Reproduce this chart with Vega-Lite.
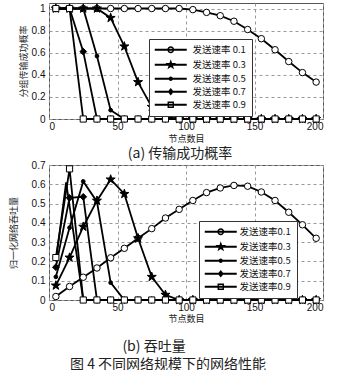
{
"$schema": "https://vega.github.io/schema/vega-lite/v6.json",
"padding": {"left": 8, "top": 1, "right": 4, "bottom": 1},
"bounds": "flush",
"spacing": 46,
"title": {"text": "图 4  不同网络规模下的网络性能", "orient": "bottom", "anchor": "middle", "font": "Noto Sans CJK SC", "fontSize": 14, "fontWeight": "normal", "color": "#222", "offset": 3},
"config": {
  "view": {"stroke": "#555"},
  "axis": {"grid": true, "gridDash": [3, 3], "gridColor": "#999", "domain": false, "ticks": false, "labelFont": "Liberation Sans", "labelFontSize": 10, "labelColor": "#111", "titleFont": "Noto Sans CJK SC", "titleFontSize": 9, "titleFontWeight": "normal", "titleColor": "#222"},
  "legend": {"orient": "none", "title": null, "fillColor": "white", "strokeColor": "#333", "padding": 6, "symbolSize": 64, "symbolOffset": 11, "labelOffset": 17, "labelFont": "Noto Sans CJK SC", "labelFontSize": 9.5, "labelColor": "#111", "rowPadding": 1, "symbolOpacity": 1, "symbolStrokeWidth": 1}
},
"datasets": {
  "a": [
    {"x":5,"y":1,"s":"0.1"},{"x":15,"y":1,"s":"0.1"},{"x":25,"y":1,"s":"0.1"},{"x":35,"y":1,"s":"0.1"},{"x":45,"y":1,"s":"0.1"},{"x":55,"y":1,"s":"0.1"},{"x":65,"y":1,"s":"0.1"},{"x":75,"y":1,"s":"0.1"},{"x":85,"y":1,"s":"0.1"},{"x":95,"y":1,"s":"0.1"},{"x":105,"y":0.99,"s":"0.1"},{"x":115,"y":0.965,"s":"0.1"},{"x":125,"y":0.935,"s":"0.1"},{"x":135,"y":0.885,"s":"0.1"},{"x":145,"y":0.81,"s":"0.1"},{"x":155,"y":0.727,"s":"0.1"},{"x":165,"y":0.627,"s":"0.1"},{"x":175,"y":0.52,"s":"0.1"},{"x":185,"y":0.42,"s":"0.1"},{"x":195,"y":0.334,"s":"0.1"},
    {"x":5,"y":1,"s":"0.3"},{"x":15,"y":1,"s":"0.3"},{"x":25,"y":1,"s":"0.3"},{"x":35,"y":1,"s":"0.3"},{"x":45,"y":0.915,"s":"0.3"},{"x":55,"y":0.657,"s":"0.3"},{"x":65,"y":0.334,"s":"0.3"},{"x":75,"y":0.11,"s":"0.3"},{"x":85,"y":0.02,"s":"0.3"},{"x":95,"y":0,"s":"0.3"},{"x":105,"y":0,"s":"0.3"},{"x":115,"y":0,"s":"0.3"},{"x":125,"y":0,"s":"0.3"},{"x":135,"y":0,"s":"0.3"},{"x":145,"y":0,"s":"0.3"},{"x":155,"y":0,"s":"0.3"},{"x":165,"y":0,"s":"0.3"},{"x":175,"y":0,"s":"0.3"},{"x":185,"y":0,"s":"0.3"},{"x":195,"y":0,"s":"0.3"},
    {"x":5,"y":1,"s":"0.5"},{"x":15,"y":1,"s":"0.5"},{"x":25,"y":1,"s":"0.5"},{"x":35,"y":0.57,"s":"0.5"},{"x":45,"y":0.08,"s":"0.5"},{"x":55,"y":0,"s":"0.5"},{"x":65,"y":0,"s":"0.5"},{"x":75,"y":0,"s":"0.5"},{"x":85,"y":0,"s":"0.5"},{"x":95,"y":0,"s":"0.5"},{"x":105,"y":0,"s":"0.5"},{"x":115,"y":0,"s":"0.5"},{"x":125,"y":0,"s":"0.5"},{"x":135,"y":0,"s":"0.5"},{"x":145,"y":0,"s":"0.5"},{"x":155,"y":0,"s":"0.5"},{"x":165,"y":0,"s":"0.5"},{"x":175,"y":0,"s":"0.5"},{"x":185,"y":0,"s":"0.5"},{"x":195,"y":0,"s":"0.5"},
    {"x":5,"y":1,"s":"0.7"},{"x":15,"y":1,"s":"0.7"},{"x":25,"y":0.61,"s":"0.7"},{"x":35,"y":0,"s":"0.7"},{"x":45,"y":0,"s":"0.7"},{"x":55,"y":0,"s":"0.7"},{"x":65,"y":0,"s":"0.7"},{"x":75,"y":0,"s":"0.7"},{"x":85,"y":0,"s":"0.7"},{"x":95,"y":0,"s":"0.7"},{"x":105,"y":0,"s":"0.7"},{"x":115,"y":0,"s":"0.7"},{"x":125,"y":0,"s":"0.7"},{"x":135,"y":0,"s":"0.7"},{"x":145,"y":0,"s":"0.7"},{"x":155,"y":0,"s":"0.7"},{"x":165,"y":0,"s":"0.7"},{"x":175,"y":0,"s":"0.7"},{"x":185,"y":0,"s":"0.7"},{"x":195,"y":0,"s":"0.7"},
    {"x":5,"y":1,"s":"0.9"},{"x":15,"y":1,"s":"0.9"},{"x":25,"y":0,"s":"0.9"},{"x":35,"y":0,"s":"0.9"},{"x":45,"y":0,"s":"0.9"},{"x":55,"y":0,"s":"0.9"},{"x":65,"y":0,"s":"0.9"},{"x":75,"y":0,"s":"0.9"},{"x":85,"y":0,"s":"0.9"},{"x":95,"y":0,"s":"0.9"},{"x":105,"y":0,"s":"0.9"},{"x":115,"y":0,"s":"0.9"},{"x":125,"y":0,"s":"0.9"},{"x":135,"y":0,"s":"0.9"},{"x":145,"y":0,"s":"0.9"},{"x":155,"y":0,"s":"0.9"},{"x":165,"y":0,"s":"0.9"},{"x":175,"y":0,"s":"0.9"},{"x":185,"y":0,"s":"0.9"},{"x":195,"y":0,"s":"0.9"}
  ],
  "b": [
    {"x":5,"y":0.018,"s":"0.1"},{"x":15,"y":0.07,"s":"0.1"},{"x":25,"y":0.118,"s":"0.1"},{"x":35,"y":0.166,"s":"0.1"},{"x":45,"y":0.219,"s":"0.1"},{"x":55,"y":0.268,"s":"0.1"},{"x":65,"y":0.32,"s":"0.1"},{"x":75,"y":0.37,"s":"0.1"},{"x":85,"y":0.425,"s":"0.1"},{"x":95,"y":0.47,"s":"0.1"},{"x":105,"y":0.516,"s":"0.1"},{"x":115,"y":0.557,"s":"0.1"},{"x":125,"y":0.581,"s":"0.1"},{"x":135,"y":0.594,"s":"0.1"},{"x":145,"y":0.59,"s":"0.1"},{"x":155,"y":0.56,"s":"0.1"},{"x":165,"y":0.516,"s":"0.1"},{"x":175,"y":0.455,"s":"0.1"},{"x":185,"y":0.39,"s":"0.1"},{"x":195,"y":0.32,"s":"0.1"},
    {"x":5,"y":0.075,"s":"0.3"},{"x":15,"y":0.22,"s":"0.3"},{"x":25,"y":0.38,"s":"0.3"},{"x":35,"y":0.515,"s":"0.3"},{"x":45,"y":0.625,"s":"0.3"},{"x":55,"y":0.55,"s":"0.3"},{"x":65,"y":0.32,"s":"0.3"},{"x":75,"y":0.12,"s":"0.3"},{"x":85,"y":0.027,"s":"0.3"},{"x":95,"y":0,"s":"0.3"},{"x":105,"y":0,"s":"0.3"},{"x":115,"y":0,"s":"0.3"},{"x":125,"y":0,"s":"0.3"},{"x":135,"y":0,"s":"0.3"},{"x":145,"y":0,"s":"0.3"},{"x":155,"y":0,"s":"0.3"},{"x":165,"y":0,"s":"0.3"},{"x":175,"y":0,"s":"0.3"},{"x":185,"y":0,"s":"0.3"},{"x":195,"y":0,"s":"0.3"},
    {"x":5,"y":0.12,"s":"0.5"},{"x":15,"y":0.375,"s":"0.5"},{"x":25,"y":0.615,"s":"0.5"},{"x":35,"y":0.51,"s":"0.5"},{"x":45,"y":0.09,"s":"0.5"},{"x":55,"y":0,"s":"0.5"},{"x":65,"y":0,"s":"0.5"},{"x":75,"y":0,"s":"0.5"},{"x":85,"y":0,"s":"0.5"},{"x":95,"y":0,"s":"0.5"},{"x":105,"y":0,"s":"0.5"},{"x":115,"y":0,"s":"0.5"},{"x":125,"y":0,"s":"0.5"},{"x":135,"y":0,"s":"0.5"},{"x":145,"y":0,"s":"0.5"},{"x":155,"y":0,"s":"0.5"},{"x":165,"y":0,"s":"0.5"},{"x":175,"y":0,"s":"0.5"},{"x":185,"y":0,"s":"0.5"},{"x":195,"y":0,"s":"0.5"},
    {"x":5,"y":0.17,"s":"0.7"},{"x":15,"y":0.53,"s":"0.7"},{"x":25,"y":0.535,"s":"0.7"},{"x":35,"y":0,"s":"0.7"},{"x":45,"y":0,"s":"0.7"},{"x":55,"y":0,"s":"0.7"},{"x":65,"y":0,"s":"0.7"},{"x":75,"y":0,"s":"0.7"},{"x":85,"y":0,"s":"0.7"},{"x":95,"y":0,"s":"0.7"},{"x":105,"y":0,"s":"0.7"},{"x":115,"y":0,"s":"0.7"},{"x":125,"y":0,"s":"0.7"},{"x":135,"y":0,"s":"0.7"},{"x":145,"y":0,"s":"0.7"},{"x":155,"y":0,"s":"0.7"},{"x":165,"y":0,"s":"0.7"},{"x":175,"y":0,"s":"0.7"},{"x":185,"y":0,"s":"0.7"},{"x":195,"y":0,"s":"0.7"},
    {"x":5,"y":0.22,"s":"0.9"},{"x":15,"y":0.68,"s":"0.9"},{"x":25,"y":0,"s":"0.9"},{"x":35,"y":0,"s":"0.9"},{"x":45,"y":0,"s":"0.9"},{"x":55,"y":0,"s":"0.9"},{"x":65,"y":0,"s":"0.9"},{"x":75,"y":0,"s":"0.9"},{"x":85,"y":0,"s":"0.9"},{"x":95,"y":0,"s":"0.9"},{"x":105,"y":0,"s":"0.9"},{"x":115,"y":0,"s":"0.9"},{"x":125,"y":0,"s":"0.9"},{"x":135,"y":0,"s":"0.9"},{"x":145,"y":0,"s":"0.9"},{"x":155,"y":0,"s":"0.9"},{"x":165,"y":0,"s":"0.9"},{"x":175,"y":0,"s":"0.9"},{"x":185,"y":0,"s":"0.9"},{"x":195,"y":0,"s":"0.9"}
  ]
},
"vconcat": [
  {
    "width": 274, "height": 116,
    "title": {"text": "(a) 传输成功概率", "orient": "bottom", "font": "Noto Sans CJK SC", "fontSize": 14, "fontWeight": "normal", "color": "#222", "offset": 4, "dx": -6},
    "data": {"name": "a"},
    "encoding": {
      "x": {"field": "x", "type": "quantitative", "scale": {"domain": [0, 200]}, "axis": {"values": [0, 50, 100, 150, 200], "title": "节点数目", "titlePadding": 3, "labelPadding": 2}},
      "y": {"field": "y", "type": "quantitative", "scale": {"domain": [0, 1.05]}, "axis": {"values": [0, 0.2, 0.4, 0.6, 0.8, 1], "format": "~g", "title": "分组传输成功概率", "titleX": -26, "titleBaseline": "middle", "labelPadding": 4}}
    },
    "layer": [
      {"mark": {"type": "line", "color": "black", "strokeWidth": 1.8}, "encoding": {"detail": {"field": "s"}}},
      {"mark": {"type": "point", "filled": true, "stroke": "black", "strokeWidth": 1, "opacity": 1},
       "encoding": {
         "shape": {"field": "s", "type": "nominal", "legend": null, "scale": {"domain": ["0.1","0.3","0.5","0.7","0.9"], "range": ["circle", "M0,-1L0.231,-0.318L0.9511,-0.309L0.3738,0.1214L0.5878,0.809L0,0.393L-0.5878,0.809L-0.3738,0.1214L-0.9511,-0.309L-0.231,-0.318Z", "circle", "diamond", "square"]}},
         "fill": {"field": "s", "type": "nominal", "legend": null, "scale": {"domain": ["0.1","0.3","0.5","0.7","0.9"], "range": ["white", "black", "black", "black", "white"]}},
         "size": {"field": "s", "type": "nominal", "legend": null, "scale": {"type": "ordinal", "domain": ["0.1","0.3","0.5","0.7","0.9"], "range": [42, 90, 14, 45, 38]}}
       }},
      {"mark": {"type": "point", "opacity": 0, "filled": false, "color": "black", "fill": "black", "stroke": "black", "strokeWidth": 1},
       "encoding": {
         "shape": {"field": "s", "type": "nominal",
           "scale": {"domain": ["0.1","0.3","0.5","0.7","0.9"], "range": [
             "M-4,-0.25L4,-0.25L4,0.25L-4,0.25ZM0.85,0A0.85,0.85 0 1,1 -0.85,0A0.85,0.85 0 1,1 0.85,0ZM0.5,0A0.5,0.5 0 1,0 -0.5,0A0.5,0.5 0 1,0 0.5,0Z",
             "M-4,-0.25L4,-0.25L4,0.25L-4,0.25ZM0,-1.4L0.3233,-0.445L1.3315,-0.4326L0.5231,0.17L0.8229,1.1326L0,0.55L-0.8229,1.1326L-0.5231,0.17L-1.3315,-0.4326L-0.3233,-0.445Z",
             "M-4,-0.25L4,-0.25L4,0.25L-4,0.25ZM0.55,0A0.55,0.55 0 1,1 -0.55,0A0.55,0.55 0 1,1 0.55,0Z",
             "M-4,-0.25L4,-0.25L4,0.25L-4,0.25ZM0,-0.95L0.75,0L0,0.95L-0.75,0Z",
             "M-4,-0.25L4,-0.25L4,0.25L-4,0.25ZM-0.8,-0.8L0.8,-0.8L0.8,0.8L-0.8,0.8ZM-0.45,-0.45L-0.45,0.45L0.45,0.45L0.45,-0.45Z"]},
           "legend": {"legendX": 100, "legendY": 36, "labelExpr": "'发送速率 ' + datum.label",
             "symbolFillColor": "black", "symbolStrokeColor": "black"}}
       }}
    ],
    "resolve": {"scale": {"shape": "independent"}, "legend": {"shape": "independent"}}
  },
  {
    "width": 274, "height": 135,
    "title": {"text": "(b) 吞吐量", "orient": "bottom", "font": "Noto Sans CJK SC", "fontSize": 14, "fontWeight": "normal", "color": "#222", "offset": 17, "dx": -32},
    "data": {"name": "b"},
    "encoding": {
      "x": {"field": "x", "type": "quantitative", "scale": {"domain": [0, 200]}, "axis": {"values": [0, 50, 100, 150, 200], "title": "节点数目", "titlePadding": 2, "labelPadding": 2}},
      "y": {"field": "y", "type": "quantitative", "scale": {"domain": [0, 0.7]}, "axis": {"values": [0, 0.1, 0.2, 0.3, 0.4, 0.5, 0.6, 0.7], "format": "~g", "title": "归一化网络吞吐量", "titleX": -36, "titleBaseline": "middle", "labelPadding": 4}}
    },
    "layer": [
      {"mark": {"type": "line", "color": "black", "strokeWidth": 1.8}, "encoding": {"detail": {"field": "s"}}},
      {"data": {"values": [{"x": 5, "y": 0.2}, {"x": 12.5, "y": 0.61}, {"x": 25, "y": 0}]},
       "mark": {"type": "line", "color": "black", "strokeWidth": 1.8}, "encoding": {}},
      {"mark": {"type": "point", "filled": true, "stroke": "black", "strokeWidth": 1, "opacity": 1},
       "encoding": {
         "shape": {"field": "s", "type": "nominal", "legend": null, "scale": {"domain": ["0.1","0.3","0.5","0.7","0.9"], "range": ["circle", "M0,-1L0.231,-0.318L0.9511,-0.309L0.3738,0.1214L0.5878,0.809L0,0.393L-0.5878,0.809L-0.3738,0.1214L-0.9511,-0.309L-0.231,-0.318Z", "circle", "diamond", "square"]}},
         "fill": {"field": "s", "type": "nominal", "legend": null, "scale": {"domain": ["0.1","0.3","0.5","0.7","0.9"], "range": ["white", "black", "black", "black", "white"]}},
         "size": {"field": "s", "type": "nominal", "legend": null, "scale": {"type": "ordinal", "domain": ["0.1","0.3","0.5","0.7","0.9"], "range": [42, 90, 14, 45, 38]}}
       }},
      {"mark": {"type": "point", "opacity": 0, "filled": false, "color": "black", "fill": "black", "stroke": "black", "strokeWidth": 1},
       "encoding": {
         "shape": {"field": "s", "type": "nominal",
           "scale": {"domain": ["0.1","0.3","0.5","0.7","0.9"], "range": [
             "M-4,-0.25L4,-0.25L4,0.25L-4,0.25ZM0.85,0A0.85,0.85 0 1,1 -0.85,0A0.85,0.85 0 1,1 0.85,0ZM0.5,0A0.5,0.5 0 1,0 -0.5,0A0.5,0.5 0 1,0 0.5,0Z",
             "M-4,-0.25L4,-0.25L4,0.25L-4,0.25ZM0,-1.4L0.3233,-0.445L1.3315,-0.4326L0.5231,0.17L0.8229,1.1326L0,0.55L-0.8229,1.1326L-0.5231,0.17L-1.3315,-0.4326L-0.3233,-0.445Z",
             "M-4,-0.25L4,-0.25L4,0.25L-4,0.25ZM0.55,0A0.55,0.55 0 1,1 -0.55,0A0.55,0.55 0 1,1 0.55,0Z",
             "M-4,-0.25L4,-0.25L4,0.25L-4,0.25ZM0,-0.95L0.75,0L0,0.95L-0.75,0Z",
             "M-4,-0.25L4,-0.25L4,0.25L-4,0.25ZM-0.8,-0.8L0.8,-0.8L0.8,0.8L-0.8,0.8ZM-0.45,-0.45L-0.45,0.45L0.45,0.45L0.45,-0.45Z"]},
           "legend": {"legendX": 150, "legendY": 56, "labelOffset": 14, "labelExpr": "'发送速率' + datum.label",
             "symbolFillColor": "black", "symbolStrokeColor": "black"}}
       }}
    ],
    "resolve": {"scale": {"shape": "independent"}, "legend": {"shape": "independent"}}
  }
]
}
